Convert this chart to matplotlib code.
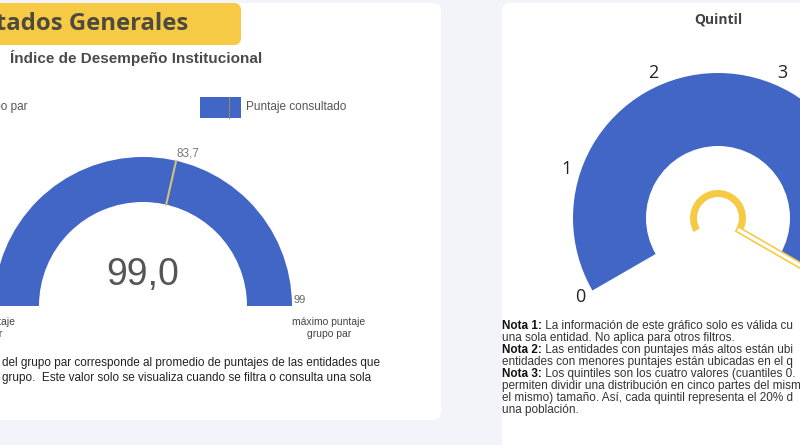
import matplotlib
matplotlib.use("Agg")
import matplotlib.pyplot as plt
import numpy as np
from matplotlib.patches import Wedge, FancyBboxPatch, Polygon, Rectangle

plt.rcParams['font.family'] = ['Liberation Sans', 'DejaVu Sans']

# --- datos ---
titulo_seccion = "Resultados Generales"
indicador = "Índice de Desempeño Institucional"
leyenda = ["Puntaje grupo par", "Puntaje consultado"]
puntaje_consultado = 99.0
puntaje_grupo_par = 83.7
minimo_grupo_par = 63.3
maximo_grupo_par = 99
etiqueta_max = "máximo puntaje\ngrupo par"
etiqueta_min = "mínimo puntaje\ngrupo par"
nota_izq = ["del grupo par corresponde al promedio de puntajes de las entidades que",
            "grupo.  Este valor solo se visualiza cuando se filtra o consulta una sola"]

quintiles = [0, 1, 2, 3, 4, 5]
quintil_entidad = 5
notas_der = [("Nota 1:", " La información de este gráfico solo es válida cu"),
             ("", "una sola entidad. No aplica para otros filtros."),
             ("Nota 2:", " Las entidades con puntajes más altos están ubi"),
             ("", "entidades con menores puntajes están ubicadas en el q"),
             ("Nota 3:", " Los quintiles son los cuatro valores (cuantiles 0."),
             ("", "permiten dividir una distribución en cinco partes del mism"),
             ("", "el mismo) tamaño. Así, cada quintil representa el 20% d"),
             ("", "una población.")]

FONDO = '#F3F4F9'
AZUL = '#4166C5'
AMARILLO = '#F7CA46'
H = 445


def Y(y):
    # coordenadas de pixel con origen arriba
    return H - y


fig = plt.figure(figsize=(8, 4.45), dpi=100, facecolor=FONDO)
ax = fig.add_axes([0, 0, 1, 1])
ax.set_xlim(0, 800)
ax.set_ylim(0, H)
ax.axis('off')

# tarjetas
ax.add_patch(FancyBboxPatch((-30, Y(420)), 471, 417, boxstyle="round,pad=0,rounding_size=8",
                            fc='white', ec='none'))
ax.add_patch(FancyBboxPatch((502, Y(470)), 330, 467, boxstyle="round,pad=0,rounding_size=8",
                            fc='white', ec='none'))
ax.add_patch(FancyBboxPatch((-30, Y(45)), 271, 42, boxstyle="round,pad=0,rounding_size=7",
                            fc=AMARILLO, ec='none'))
ax.text(188, Y(24), titulo_seccion, ha='right', va='center', fontsize=17.2, fontweight='bold',
        color='#4D4A3E', family=['Open Sans', 'DejaVu Sans'])
ax.text(10, Y(58), indicador, ha='left', va='center', fontsize=11, fontweight='bold', color='#4A4A4A')

# leyenda
ax.text(27, Y(107), leyenda[0], ha='right', va='center', fontsize=8.5, color='#555555')
ax.add_patch(Rectangle((200, Y(118)), 41, 21, fc=AZUL, ec='none'))
ax.plot([229, 229], [Y(118), Y(97)], color='#8C8A70', lw=0.8)
ax.text(246, Y(107), leyenda[1], ha='left', va='center', fontsize=8.5, color='#555555')

# indicador semicircular
cx, cy, R, w = 143, Y(306), 149, 45


def ang_izq(v):
    return 180 - 180 * (v - minimo_grupo_par) / (maximo_grupo_par - minimo_grupo_par)


ax.add_patch(Wedge((cx, cy), R, ang_izq(puntaje_consultado), 180, width=w, fc=AZUL, ec='none'))
a = np.radians(ang_izq(puntaje_grupo_par))
ax.plot([cx + (R - w) * np.cos(a), cx + R * np.cos(a)],
        [cy + (R - w) * np.sin(a), cy + R * np.sin(a)], color='#CFC27A', lw=1.5)
ax.text(cx + R * np.cos(a), cy + R * np.sin(a) + 1, f"{puntaje_grupo_par:.1f}".replace('.', ','),
        ha='left', va='bottom', fontsize=8.5, color='#777777')
ax.text(cx, Y(275), f"{puntaje_consultado:.1f}".replace('.', ','), ha='center', va='center',
        fontsize=27, color='#555555')
ax.text(cx + R + 2, cy + 1, f"{maximo_grupo_par}", ha='left', va='bottom', fontsize=8, color='#666666')
ax.text(329, Y(328), etiqueta_max, ha='center', va='center', fontsize=7.5, color='#444444',
        linespacing=1.2)
ax.text(-20, Y(328), etiqueta_min, ha='center', va='center', fontsize=7.5, color='#444444',
        linespacing=1.2)
for i, linea in enumerate(nota_izq):
    ax.text(2, Y(363 + 15 * i), linea, ha='left', va='center', fontsize=8.5, color='#222222')

# quintil
ax.text(718, Y(20), "Quintil", ha='center', va='center', fontsize=10, fontweight='bold',
        color='#444444', family=['Open Sans', 'DejaVu Sans'])
qx, qy, QR, qw = 718, Y(218), 145, 73


def ang_q(v):
    return 210 - 240 * v / quintiles[-1]


ax.add_patch(Wedge((qx, qy), QR, ang_q(quintil_entidad), ang_q(quintiles[0]), width=qw,
                   fc=AZUL, ec='none'))
for q in quintiles:
    t = np.radians(ang_q(q))
    ax.text(qx + 159 * np.cos(t), qy + 159 * np.sin(t), str(q), ha='center', va='center',
            fontsize=13, color='#222222', family=['Open Sans', 'DejaVu Sans'])
ax.add_patch(Wedge((qx, qy), 28, ang_q(quintiles[-1]), ang_q(quintiles[0]), width=7,
                   fc=AMARILLO, ec='none'))
t = np.radians(ang_q(quintil_entidad))
u = np.array([np.cos(t), np.sin(t)])
n = np.array([-np.sin(t), np.cos(t)])
c = np.array([qx, qy])
pts = [c + u * 22 + n * 2.5, c + u * 170 + n * 2.5, c + u * 170 - n * 2.5, c + u * 22 - n * 2.5]
ax.add_patch(Polygon(pts, closed=True, fc='white', ec=AMARILLO, lw=1.2))

for i, (neg, resto) in enumerate(notas_der):
    yy = Y(326 + 12 * i)
    if neg:
        tb = ax.text(502, yy, neg, ha='left', va='center', fontsize=8.5, fontweight='bold',
                     color='#111111')
        ax.annotate(resto, xy=(1, 0.5), xycoords=tb, ha='left', va='center', fontsize=8.5,
                    color='#333333')
    else:
        ax.text(502, yy, resto, ha='left', va='center', fontsize=8.5, color='#333333')

fig.savefig('out.png', dpi=100, facecolor=FONDO)
